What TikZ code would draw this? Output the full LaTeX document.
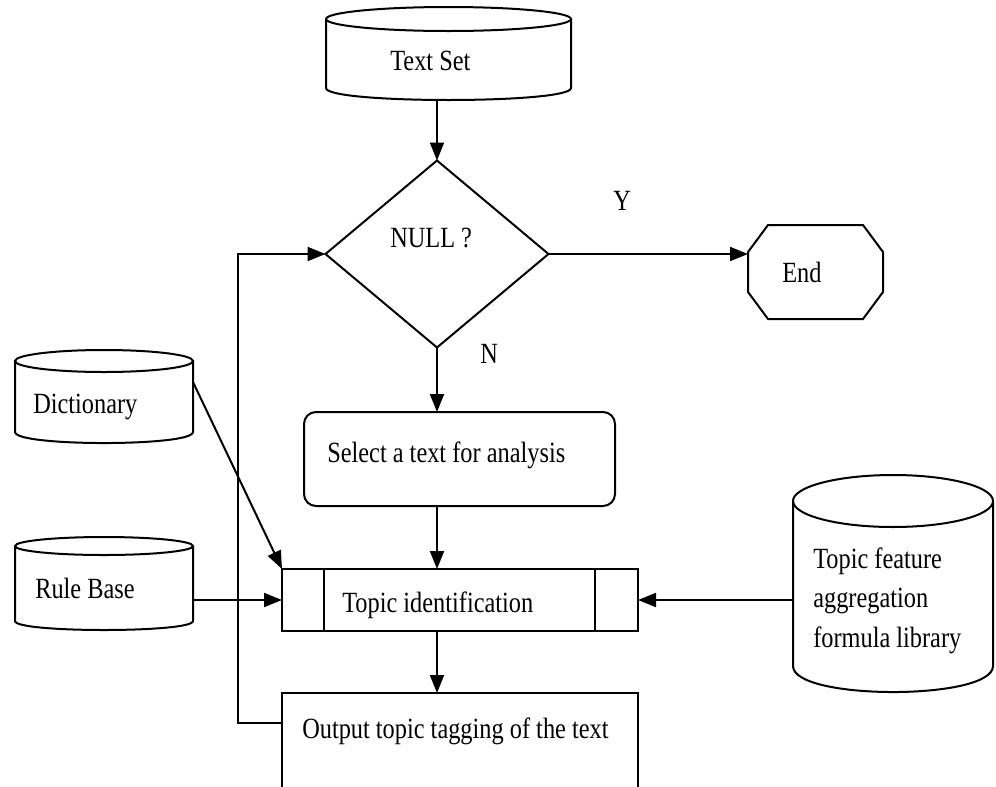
\documentclass[tikz,border=0pt]{standalone}
\usepackage{fontspec}
\setmainfont{Liberation Serif}[FakeStretch=0.83]
\usetikzlibrary{arrows.meta,shapes.geometric}
\begin{document}
\begin{tikzpicture}[x=0.75pt,y=-0.75pt,
  outline/.style={draw=black, line width=1.5pt},
  heavy/.style={draw=black, line width=2.1pt},
  hold/.style={inner sep=0pt, outer sep=0pt},
  arr/.style={draw=black, line width=1.5pt, -{Triangle[length=13.5pt,width=10.5pt]}},
  lbl/.style={inner sep=0pt, anchor=base west, font=\fontsize{22}{26}\selectfont},
]
\useasboundingbox (0,0) rectangle (996,786);
\fill[white] (0,0) rectangle (996,786);
\clip (0,0) rectangle (996,786);

% ---- shape holders (named areas) ----
\node[hold, minimum width=183.75pt, minimum height=69.75pt] (ts) at (448.5,53.5) {};
\node[hold, minimum width=133.5pt, minimum height=69.75pt] (dict) at (104,396.5) {};
\node[hold, minimum width=133.5pt, minimum height=69.75pt] (rule) at (104,583.5) {};
\node[hold, minimum width=150pt, minimum height=162.75pt] (tf) at (893,583.5) {};
\node[hold, minimum width=101.25pt, minimum height=70.5pt] (end) at (815.5,272) {};

% ---- decision ----
\node[hold, shape=diamond, outline, minimum width=167.25pt, minimum height=140.25pt] (d) at (437,254) {};

% ---- process boxes ----
\node[hold, outline, rounded corners=9pt, minimum width=233.25pt, minimum height=70.5pt] (sel) at (459.5,459) {};
\node[hold, heavy, minimum width=267pt, minimum height=46.5pt] (tid) at (460,600) {};
\draw[heavy] ([xshift=31.5pt]tid.north west) -- ([xshift=31.5pt]tid.south west);
\draw[heavy] ([xshift=-32.25pt]tid.north east) -- ([xshift=-32.25pt]tid.south east);
\node[hold, heavy, minimum width=267pt, minimum height=80.25pt] (out) at (460,746.5) {};

% ---- cylinders ----
\draw[outline] (326,19) -- (326,88) .. controls (326,104) and (571,104) .. (571,88) -- (571,19);
\draw[outline] (448.5,19) ellipse [x radius=122.5, y radius=12];

\draw[outline] (15,361) -- (15,432) .. controls (15,446.7) and (193,446.7) .. (193,432) -- (193,361);
\draw[outline] (104,361) ellipse [x radius=89, y radius=11];

\draw[outline] (15,546) -- (15,621) .. controls (15,633) and (193,633) .. (193,621) -- (193,546);
\draw[outline] (104,546) ellipse [x radius=89, y radius=9];

\draw[outline] (793,501) -- (793,666) .. controls (793,700.7) and (993,700.7) .. (993,666) -- (993,501);
\draw[outline] (893,501) ellipse [x radius=100, y radius=26];

% ---- terminator ----
\draw[outline] (768,225) -- (863,225) -- (883,252) -- (883,292) -- (863,319)
  -- (768,319) -- (748,292) -- (748,252) -- cycle;

% ---- texts ----
\node[lbl] (tTs) at (390,70) {Text Set};
\node[lbl] (tNull) at (390,247) {NULL ?};
\node[lbl] (tY) at (613,210) {Y};
\node[lbl] (tN) at (480,363) {N};
\node[lbl] (tEnd) at (782,282) {End};
\node[lbl] (tDict) at (33,413) {Dictionary};
\node[lbl] (tRule) at (35,598) {Rule Base};
\node[lbl] (tSel) at (327,462) {Select a text for analysis};
\node[lbl] (tTid) at (342,612) {Topic identification};
\node[lbl] (tOut) at (302,738) {Output topic tagging of the text};
\node[lbl] (tTf1) at (813,568) {Topic feature};
\node[lbl] (tTf2) at (813,607) {aggregation};
\node[lbl] (tTf3) at (813,647) {formula library};

% ---- connectors ----
\coordinate (fb) at (238,254);
\draw[arr] (ts.south -| d.north) -- (d.north);
\draw[arr] (d.east) -- (d.east -| end.west);
\draw[arr] (d.south) -- (d.south |- sel.north);
\draw[arr] (d.south |- sel.south) -- (d.south |- tid.north);
\draw[arr] (d.south |- tid.south) -- (d.south |- out.north);
\draw[arr] ([yshift=-24pt]dict.north east) -- (tid.north west);
\draw[arr] (rule.east |- tid.west) -- (tid.west);
\draw[arr] (tf.west |- tid.east) -- (tid.east);
\draw[arr] ([yshift=-22.5pt]out.north west) -| (fb) -- (d.west);
\end{tikzpicture}
\end{document}
